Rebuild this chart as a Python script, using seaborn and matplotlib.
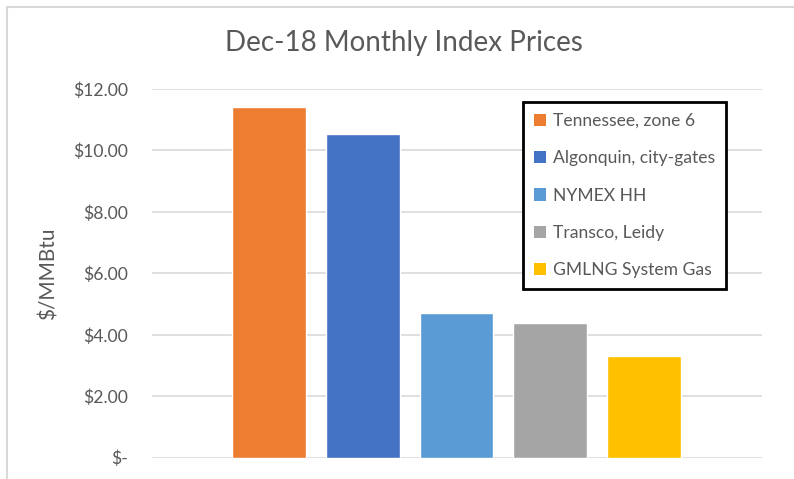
import matplotlib
matplotlib.use("Agg")
import matplotlib.pyplot as plt
import seaborn as sns
from matplotlib.lines import Line2D
from matplotlib.patches import Patch
from matplotlib.ticker import FuncFormatter

# data
hubs = ["Tennessee, zone 6", "Algonquin, city-gates", "NYMEX HH",
        "Transco, Leidy", "GMLNG System Gas"]
prices = [11.41, 10.53, 4.70, 4.37, 3.31]
colors = ["#ED7D31", "#4472C4", "#5B9BD5", "#A5A5A5", "#FFC000"]
yticks = [0, 2, 4, 6, 8, 10, 12]

sns.set_style("white")
plt.rcParams["font.family"] = ["Lato", "DejaVu Sans"]
text_gray = "#595959"

fig = plt.figure(figsize=(7.94, 4.79), dpi=100)
ax = fig.add_axes([0.1914, 0.0445, 0.7683, 0.7697])

sns.barplot(x=hubs, y=prices, hue=hubs, palette=colors, width=0.787,
            saturation=1, legend=False, ax=ax)

ax.set_xlim(-1.245, 5.255)
ax.set_ylim(0, 12)
ax.set_yticks(yticks)
ax.yaxis.set_major_formatter(FuncFormatter(lambda v, p: "$-" if v == 0 else f"${v:,.2f}"))
ax.set_xticks([])
ax.tick_params(axis="y", length=0, pad=17, labelsize=12.6, labelcolor=text_gray)
ax.grid(axis="y", color="#D9D9D9", linewidth=1.2)
ax.set_axisbelow(True)
for s in ax.spines.values():
    s.set_visible(False)

ax.set_ylabel("$/MMBtu", fontsize=15, color=text_gray)
ax.yaxis.set_label_coords(-0.154, 0.5)

fig.text(0.509, 0.910, "Dec-18 Monthly Index Prices", ha="center", va="center",
         fontsize=20, color=text_gray)

handles = [Patch(facecolor=c, edgecolor="none") for c in colors]
leg = ax.legend(handles, hubs, loc="upper left", bbox_to_anchor=(0.659, 0.787),
                bbox_transform=fig.transFigure, fontsize=12.6, frameon=True,
                fancybox=False, edgecolor="black", framealpha=1,
                handlelength=0.7, handleheight=0.7, handletextpad=0.4,
                labelspacing=1.22, borderpad=0.62, borderaxespad=0)
leg.get_frame().set_linewidth(2)
for t in leg.get_texts():
    t.set_color(text_gray)

# chart-area border (top and left edges visible)
bc = "#D9D9D9"
fig.add_artist(Line2D([0.0094, 1.0], [0.9864, 0.9864], color=bc, lw=1.5,
                      transform=fig.transFigure))
fig.add_artist(Line2D([0.0094, 0.0094], [0.0, 0.9864], color=bc, lw=1.5,
                      transform=fig.transFigure))

fig.savefig("out.png", dpi=100)
